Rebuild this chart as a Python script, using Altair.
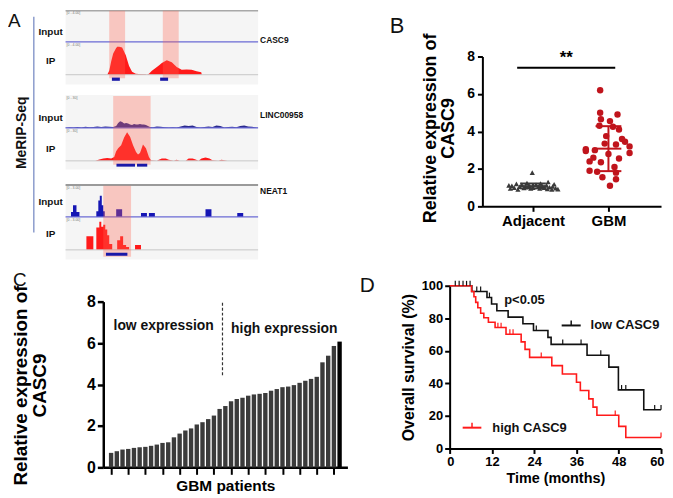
import altair as alt
import pandas as pd

FONT = "Liberation Sans"

# ================= Panel A : MeRIP-Seq browser tracks =================
gene_names = ["CASC9", "LINC00958", "NEAT1"]
input_base = [33, 122, 214]     # image rows of the Input baselines
ip_base = [67, 156, 248]        # image rows of the IP baselines
group_top = [1, 88, 181]
group_bottom = [77, 165, 258]
scale_text = ["[0 - 4.00]", "[0 - 30]", "[0 - 3.00]"]

g1_ip_pos = [108, 110, 112, 114, 116.7, 118, 120, 123, 126.7, 130, 133, 136.7, 140, 146.7, 148,
             150, 153, 156.7, 160, 163, 168, 173, 178, 183, 188, 193, 198, 202.7, 203.3]
g1_ip_val = [0, 4, 14, 22, 27, 29, 29, 28, 20, 9, 3, 1, 0.8, 0.5, 0,
             1, 4, 7, 9.5, 12, 15, 13, 8, 5, 5.5, 5, 3.5, 2.5, 0]

g2_in_pos = [66, 70, 74, 78, 82, 86, 90, 94, 98, 102, 106, 110, 114, 117, 119, 121, 123, 125, 127, 129,
             131, 133, 135, 137, 139, 141, 143, 145, 147, 149, 151, 154, 158, 162, 166, 170, 174, 178, 182, 186,
             190, 194, 198, 202, 206, 210, 214, 218, 222, 226, 230, 234, 238, 242, 246, 250, 254, 258, 260]
g2_in_val = [0.3, 0.8, 0.5, 1, 0.5, 1.2, 0.8, 1, 1.5, 1, 1.5, 1.2, 1, 2, 5, 7, 6, 4.5, 5, 4.5,
             3.5, 3, 4, 3.5, 3.5, 4, 3.5, 3.5, 3, 2, 1, 0.8, 1.5, 1.2, 0.8, 0.5, 0.8, 0.5, 1.5, 2.5,
             2, 2.5, 1, 0.5, 1, 1.5, 1, 2.5, 2, 0.5, 1, 1.2, 0.8, 2, 2.5, 1.5, 1.2, 0.5, 0.3]

g2_ip_pos = [96, 100, 104, 108, 112, 115, 117, 119, 122, 125, 128, 131, 134, 137, 139, 141, 144, 147, 150, 152,
             158, 160, 163, 167, 170, 175, 178, 181, 187, 190, 194, 197, 200, 203, 207, 211, 214, 220, 223, 226, 229]
g2_ip_val = [0, 1.5, 2.5, 3, 2.5, 4, 10, 13, 16, 24, 29.5, 25, 16, 9, 6.5, 8, 17, 13, 4, 0.5,
             0, 1, 2.5, 2.5, 1, 0, 1, 0, 0, 2.5, 2.5, 1.5, 0, 2.5, 3.5, 2.5, 0.5, 0, 1, 0.5, 0]

g3_in_pos = [66, 71.5, 73.5, 77, 80, 97, 99, 100.5, 102.5, 104, 105.5, 117, 123, 142, 148, 150, 156, 207, 213, 239, 245, 260]
g3_in_val = [0, 5, 12, 5, 0, 6, 17, 22, 12, 6, 0, 8, 0, 4, 0, 4, 0, 8, 0, 4, 0, 0]

g3_ip_pos = [66, 87, 94, 97, 100, 102, 104, 106, 108, 110, 113, 118, 121, 124, 127, 130, 136, 142, 260]
g3_ip_val = [0, 14, 0, 23, 29, 24, 26, 21, 15, 6, 0, 10, 14, 5, 3, 0, 5, 0, 0]

peak_x1 = [110, 164, 114, 104]
peak_x2 = [126, 180, 151.7, 132]
peak_y1 = [1, 1, 89, 181.7]
peak_y2 = [70.7, 70.7, 160, 255]

feat_x1 = [112.7, 161.3, 117.3, 138, 106.7]
feat_x2 = [120.7, 169.3, 136, 148.3, 128.3]
feat_y1 = [70, 70, 159, 159, 251]
feat_y2 = [73.3, 73.3, 162, 162, 254]

# ================= Panel B =================
adj_vals = [1.80, 1.30, 1.25, 1.22, 1.20, 1.18, 1.15, 1.15, 1.12, 1.10, 1.10, 1.08, 1.06, 1.05, 1.05,
            1.03, 1.02, 1.00, 1.00, 1.00, 0.98, 0.97, 0.96, 0.95, 0.95, 0.93, 0.92, 0.90, 0.90, 1.12]
adj_off = [-0.01, 0.20, -0.08, 0.10, -0.22, 0.28, -0.15, 0.04, 0.18, -0.28, -0.05, 0.12, 0.26, -0.18, 0.07,
           -0.10, 0.22, -0.25, 0.00, 0.15, -0.12, 0.30, 0.09, -0.30, -0.03, 0.19, 0.33, -0.20, 0.25, -0.32]
gbm_vals = [6.2, 5.0, 4.9, 4.65, 4.55, 4.3, 4.25, 4.1, 3.75, 3.45, 3.35, 3.3, 3.2, 3.05, 3.0,
            2.95, 2.85, 2.8, 2.55, 2.4, 2.35, 2.1, 1.9, 1.85, 1.8, 1.55, 1.45, 2.6, 1.1, 3.6]
gbm_off = [-0.11, -0.11, 0.12, -0.10, 0.02, -0.12, 0.06, 0.14, -0.03, 0.22, -0.05, 0.10, 0.28, -0.30, -0.18,
           -0.30, 0.28, 0.00, 0.14, -0.25, -0.10, 0.08, -0.25, -0.15, 0.10, -0.08, 0.10, -0.20, 0.02, 0.18]
adj_stats = [0.96, 1.08, 1.22]   # mean - SD, mean, mean + SD
gbm_stats = [1.88, 3.08, 4.28]
sig_line = [0.79, 2.09, 7.4]

# ================= Panel C =================
c_vals = [0.70, 0.78, 0.86, 0.89, 0.94, 0.97, 0.99, 1.04, 1.10, 1.18, 1.21, 1.45, 1.63, 1.78, 1.88,
          2.07, 2.18, 2.33, 2.50, 2.82, 2.96, 3.19, 3.30, 3.36, 3.46, 3.52, 3.55, 3.59, 3.70, 3.78,
          3.87, 3.90, 3.97, 4.08, 4.18, 4.27, 4.37, 5.07, 5.39, 5.86, 6.07]
c_split = [20.5, 4.45, 8.0]

# ================= Panel D =================
low_t = [0, 6.3, 10.6, 11.9, 13.4, 16.6, 20.8, 23.8, 27.9, 28.8, 39.0, 45.2, 47.9, 55.1, 60]
low_s = [100, 96.5, 92.8, 88.8, 84.6, 80.7, 76.6, 72.5, 68.3, 64.0, 57.3, 50.0, 36.0, 23.8, 23.8]
low_cens_t = [1.6, 2.7, 3.8, 4.8, 5.8, 7.7, 8.8, 11.3, 24.6, 32.1, 37.3, 42.9, 48.8, 50.0, 58.2, 60]
low_cens_s = [100, 100, 100, 100, 100, 96.5, 96.5, 92.8, 72.5, 64, 64, 57.3, 36, 36, 23.8, 23.8]
high_t = [0, 6.2, 6.9, 7.4, 8.0, 8.8, 9.7, 11.0, 12.9, 16.0, 20.3, 21.4, 22.7, 29.0, 32.0, 36.0,
          37.1, 39.5, 40.7, 41.8, 48.0, 50.0, 60]
high_s = [100, 96.5, 93.2, 89.8, 86.5, 83.1, 80.3, 77.6, 74.3, 70.2, 65.5, 60.9, 56.0, 50.9, 45.8, 40.7,
          35.6, 30.5, 25.4, 20.4, 13.6, 6.8, 6.8]
high_cens_t = [13.7, 14.6, 17.1, 18.0, 26.0, 47.0, 60]
high_cens_s = [74.3, 74.3, 70.2, 70.2, 56.0, 20.4, 6.8]

RED = "#ff1a1a"
DARKRED = "#c0141c"

# ---------------------------------------------------------------- A
A_X = alt.Scale(domain=[0, 330], range=[-104, 226], nice=False, zero=False)
A_Y = alt.Scale(domain=[1, 258], range=[-46, 204.6], nice=False, zero=False)


def ax(f):
    return alt.X(f, scale=A_X, axis=None)


def ay(f):
    return alt.Y(f, scale=A_Y, axis=None)


bg_df = pd.DataFrame({"x": [66] * 3, "x2": [260] * 3, "y": group_top, "y2": group_bottom})
bg = alt.Chart(bg_df).mark_rect(color="#f5f5f5").encode(ax("x:Q"), alt.X2("x2:Q"), ay("y:Q"), alt.Y2("y2:Q"))


def area_rows(name, base, pos, val):
    return [{"track": name, "x": p, "top": base - v, "base": base} for p, v in zip(pos, val)]


red_lin = pd.DataFrame(area_rows("g1ip", ip_base[0], g1_ip_pos, g1_ip_val) +
                       area_rows("g2ip", ip_base[1], g2_ip_pos, g2_ip_val))
red_step = pd.DataFrame(area_rows("g3ip", ip_base[2], g3_ip_pos, g3_ip_val))
navy_lin = pd.DataFrame(area_rows("g2in", input_base[1], g2_in_pos, g2_in_val))
blue_step = pd.DataFrame(area_rows("g3in", input_base[2], g3_in_pos, g3_in_val))


def area_layer(df, color, interp):
    return alt.Chart(df).mark_area(color=color, interpolate=interp, opacity=1).encode(
        ax("x:Q"), ay("top:Q"), alt.Y2("base:Q"), detail="track:N")


a_red1 = area_layer(red_lin, RED, "linear")
a_red2 = area_layer(red_step, RED, "step-after")
a_navy = area_layer(navy_lin, "#2a2a8e", "linear")
a_blue = area_layer(blue_step, "#1616b4", "step-after")

line_df = pd.DataFrame({
    "x": [66] * 8, "x2": [260] * 8,
    "y": input_base + ip_base + [group_top[0], group_top[2]],
    "c": ["#6a6ad4"] * 3 + ["#c8c8c8"] * 3 + ["#a8a8a8", "#9a9a9a"],
    "w": [1.3] * 3 + [1] * 3 + [1.5, 2],
})
a_lines = alt.Chart(line_df).mark_rule().encode(
    ax("x:Q"), alt.X2("x2:Q"), ay("y:Q"),
    color=alt.Color("c:N", scale=None), strokeWidth=alt.StrokeWidth("w:Q", scale=None))

pink_df = pd.DataFrame({"x": peak_x1, "x2": peak_x2, "y": peak_y1, "y2": peak_y2})
a_pink = alt.Chart(pink_df).mark_rect(color="#ff6450", opacity=0.32).encode(
    ax("x:Q"), alt.X2("x2:Q"), ay("y:Q"), alt.Y2("y2:Q"))

feat_df = pd.DataFrame({"x": feat_x1, "x2": feat_x2, "y": feat_y1, "y2": feat_y2})
a_feat = alt.Chart(feat_df).mark_rect(color="#1818a8").encode(
    ax("x:Q"), alt.X2("x2:Q"), ay("y:Q"), alt.Y2("y2:Q"))

vline_df = pd.DataFrame({"x": [34], "y": [7], "y2": [230]})
a_vline = alt.Chart(vline_df).mark_rule(color="#8c9ccc", strokeWidth=1.5).encode(
    ax("x:Q"), ay("y:Q"), alt.Y2("y2:Q"))

lab_df = pd.DataFrame({
    "x": [51, 51, 51, 51, 51, 51],
    "y": [22.7, 53.3, 111.7, 144, 199, 231.7],
    "t": ["Input", "IP", "Input", "IP", "Input", "IP"],
})
a_labels = alt.Chart(lab_df).mark_text(fontSize=10, fontWeight="bold", color="#111").encode(
    ax("x:Q"), ay("y:Q"), text="t:N")

gene_df = pd.DataFrame({"x": [262, 262, 262], "y": [31, 109, 187], "t": gene_names})
a_genes = alt.Chart(gene_df).mark_text(fontSize=8.5, fontWeight="bold", align="left", color="#111").encode(
    ax("x:Q"), ay("y:Q"), text="t:N")

sc_df = pd.DataFrame({
    "x": [67] * 6,
    "y": [3.5, 36.5, 91, 125.5, 184, 217.5],
    "t": [scale_text[0], scale_text[0], scale_text[1], scale_text[1], scale_text[2], scale_text[2]],
})
a_scale = alt.Chart(sc_df).mark_text(fontSize=3.5, align="left", color="#777").encode(
    ax("x:Q"), ay("y:Q"), text="t:N")

merip_df = pd.DataFrame({"x": [22], "y": [127], "t": ["MeRIP-Seq"]})
a_merip = alt.Chart(merip_df).mark_text(fontSize=14, fontWeight="bold", angle=270, color="#111").encode(
    ax("x:Q"), ay("y:Q"), text="t:N")

aletter_df = pd.DataFrame({"x": [8], "y": [12], "t": ["A"]})
a_letter = alt.Chart(aletter_df).mark_text(fontSize=19, align="left", baseline="middle", color="#111").encode(
    ax("x:Q"), ay("y:Q"), text="t:N")

panel_a = alt.layer(bg, a_red1, a_red2, a_navy, a_blue, a_lines, a_pink, a_feat, a_vline,
                    a_labels, a_genes, a_scale, a_merip, a_letter).properties(width=300, height=151)

# ---------------------------------------------------------------- common axis style
ax_style = dict(grid=False, domainColor="black", tickColor="black", labelColor="black",
                titleColor="black", labelFontWeight="bold", titleFontWeight="bold")

# ---------------------------------------------------------------- B
B_X = alt.Scale(domain=[0.329, 2.697], range=[33, 213], nice=False, zero=False)
B_Y = alt.Scale(domain=[0, 8], nice=False, zero=False)
bx_axis = alt.Axis(values=[1, 2], labelExpr="datum.value == 1 ? 'Adjacent' : 'GBM'", title=None,
                   domainWidth=2, tickWidth=2, tickSize=5, labelFontSize=15, labelPadding=2, **ax_style)
by_axis = alt.Axis(values=[0, 2, 4, 6, 8], offset=-33, title=["Relative expression of", "CASC9"],
                   domainWidth=2, tickWidth=2, tickSize=5, labelFontSize=14, labelPadding=3,
                   titleFontSize=18, titleX=-52, titleY=72, titleAngle=270, titleAlign="center",
                   titleBaseline="middle", titleLineHeight=18, **ax_style)
BX = alt.X("xp:Q", scale=B_X, axis=bx_axis)
BY = alt.Y("val:Q", scale=B_Y, axis=by_axis)

adj_df = pd.DataFrame({"xp": [1 + o for o in adj_off], "val": adj_vals})
gbm_df = pd.DataFrame({"xp": [2 + o for o in gbm_off], "val": gbm_vals})
b_adj = alt.Chart(adj_df).mark_point(shape="triangle-up", filled=True, size=28, color="#3a3a3a", opacity=1).encode(BX, BY)
b_gbm = alt.Chart(gbm_df).mark_circle(size=42, color=DARKRED, opacity=1).encode(BX, BY)

ev_df = pd.DataFrame({"xp": [1, 2], "val": [adj_stats[0], gbm_stats[0]], "val2": [adj_stats[2], gbm_stats[2]],
                      "c": ["#3a3a3a", DARKRED]})
b_ev = alt.Chart(ev_df).mark_rule(strokeWidth=2).encode(BX, BY, alt.Y2("val2:Q"), color=alt.Color("c:N", scale=None))
caps = []
for cx, st, col in [(1, adj_stats, "#3a3a3a"), (2, gbm_stats, DARKRED)]:
    for v in st:
        caps.append({"xp": cx - 0.171, "xp2": cx + 0.171, "val": v, "c": col})
b_caps = alt.Chart(pd.DataFrame(caps)).mark_rule(strokeWidth=2).encode(
    BX, alt.X2("xp2:Q"), BY, color=alt.Color("c:N", scale=None))
sig_df = pd.DataFrame({"xp": [sig_line[0]], "xp2": [sig_line[1]], "val": [sig_line[2]]})
b_sig = alt.Chart(sig_df).mark_rule(strokeWidth=2, color="black").encode(BX, alt.X2("xp2:Q"), BY)
star_df = pd.DataFrame({"xp": [(sig_line[0] + sig_line[1]) / 2], "val": [7.9], "t": ["**"]})
b_star = alt.Chart(star_df).mark_text(fontSize=17, fontWeight="bold", color="black").encode(BX, BY, text="t:N")
bl_df = pd.DataFrame({"t": ["B"]})
b_letter = alt.Chart(bl_df).mark_text(fontSize=22, color="#111", baseline="middle").encode(
    x=alt.value(-53), y=alt.value(-31), text="t:N")

panel_b = alt.layer(b_sig, b_star, b_adj, b_gbm, b_ev, b_caps, b_letter).properties(width=213, height=151)

# ---------------------------------------------------------------- C
C_X = alt.Scale(domain=[0.5, 41.5], range=[0, 246], nice=False, zero=False)
C_Y = alt.Scale(domain=[0, 8], range=[263, 96], nice=False, zero=False)
cx_axis = alt.Axis(values=list(range(1, 42, 3)), labels=False, title="GBM patients", titleFontSize=15.5,
                   titlePadding=3, domainWidth=2.5, tickWidth=2, tickSize=7, **ax_style)
cy_axis = alt.Axis(values=[0, 2, 4, 6, 8], title=["Relative expression of", "CASC9"], domainWidth=2.5,
                   tickWidth=2.5, tickSize=6, labelFontSize=16, labelPadding=2, titleFontSize=19,
                   titleX=-83, titleY=180, titleAngle=270, titleAlign="center", titleBaseline="middle",
                   titleLineHeight=19, **ax_style)
CX = alt.X("idx:Q", scale=C_X, axis=cx_axis)
CY = alt.Y("val:Q", scale=C_Y, axis=cy_axis)

c_df = pd.DataFrame({"idx": list(range(1, len(c_vals) + 1)), "val": c_vals})
c_bars = alt.Chart(c_df).mark_bar(size=4.4).encode(
    CX, CY, color=alt.condition(alt.datum.idx == len(c_vals), alt.value("#000000"), alt.value("#3b3b3b")))
split_df = pd.DataFrame({"idx": [c_split[0]], "val": [c_split[1]], "val2": [c_split[2]]})
c_split_rule = alt.Chart(split_df).mark_rule(color="#333", strokeWidth=1.2, strokeDash=[3, 2]).encode(
    CX, CY, alt.Y2("val2:Q"))
ctext_df = pd.DataFrame({"idx": [10.2], "val": [6.84], "t": ["low expression"]})
c_low = alt.Chart(ctext_df).mark_text(fontSize=14, fontWeight="bold", color="#111").encode(CX, CY, text="t:N")
ctext2_df = pd.DataFrame({"idx": [22.0], "val": [6.7], "t": ["high expression"]})
c_high = alt.Chart(ctext2_df).mark_text(fontSize=14, fontWeight="bold", align="left", color="#111").encode(
    CX, CY, text="t:N")
cl_df = pd.DataFrame({"t": ["C"]})
c_letter = alt.Chart(cl_df).mark_text(fontSize=19, color="#111", baseline="middle").encode(
    x=alt.value(-84), y=alt.value(74), text="t:N")

panel_c = alt.layer(c_bars, c_split_rule, c_low, c_high, c_letter).properties(width=349, height=263)

# ---------------------------------------------------------------- D
D_X = alt.Scale(domain=[0, 60], nice=False, zero=False)
D_Y = alt.Scale(domain=[0, 100], range=[244, 80], nice=False, zero=False)
dx_axis = alt.Axis(values=[0, 12, 24, 36, 48, 60], title="Time (months)", titleFontSize=14.5, titlePadding=3,
                   domainWidth=2, tickWidth=2, tickSize=5, labelFontSize=13, labelPadding=2,
                   labelFlush=True, labelFlushOffset=3, **ax_style)
dy_axis = alt.Axis(values=[0, 20, 40, 60, 80, 100], title="Overall survival (%)", titleFontSize=16,
                   titleX=-41, titleY=162, titleAngle=270, titleAlign="center", titleBaseline="middle",
                   domainWidth=2, tickWidth=2, tickSize=5, labelFontSize=13, labelPadding=2, **ax_style)
DX = alt.X("t:Q", scale=D_X, axis=dx_axis)
DY = alt.Y("s:Q", scale=D_Y, axis=dy_axis)

km_df = pd.DataFrame({"t": low_t + high_t, "s": low_s + high_s,
                      "g": ["low"] * len(low_t) + ["high"] * len(high_t)})
d_lines = alt.Chart(km_df).mark_line(interpolate="step-after", strokeWidth=1.6).encode(
    DX, DY, color=alt.Color("g:N", scale=alt.Scale(domain=["low", "high"], range=["#111111", RED]), legend=None))
cens_df = pd.DataFrame({"t": low_cens_t + high_cens_t, "s": low_cens_s + high_cens_s,
                        "g": ["low"] * len(low_cens_t) + ["high"] * len(high_cens_t)})
cens_df["s2"] = cens_df["s"] + 3
d_cens = alt.Chart(cens_df).mark_rule(strokeWidth=1.2).encode(
    DX, DY, alt.Y2("s2:Q"),
    color=alt.Color("g:N", scale=alt.Scale(domain=["low", "high"], range=["#111111", RED]), legend=None))

leg_df = pd.DataFrame({"t": [31.8, 3.7], "t2": [37.2, 9.0], "s": [75.6, 12.8], "g": ["low", "high"]})
d_leg = alt.Chart(leg_df).mark_rule(strokeWidth=2).encode(
    DX, alt.X2("t2:Q"), DY,
    color=alt.Color("g:N", scale=alt.Scale(domain=["low", "high"], range=["#111111", RED]), legend=None))
legt_df = pd.DataFrame({"t": [34.5, 6.35], "s": [75.6, 12.8], "s2": [78.6, 15.8], "g": ["low", "high"]})
d_legtick = alt.Chart(legt_df).mark_rule(strokeWidth=1.5).encode(
    DX, DY, alt.Y2("s2:Q"),
    color=alt.Color("g:N", scale=alt.Scale(domain=["low", "high"], range=["#111111", RED]), legend=None))
legtxt_df = pd.DataFrame({"t": [40.0, 12.1, 15.5], "s": [75.6, 12.8, 91.5], "txt": ["low CASC9", "high CASC9", "p<0.05"]})
d_legtxt = alt.Chart(legtxt_df).mark_text(fontSize=13, fontWeight="bold", align="left", baseline="middle",
                                          color="#111").encode(DX, DY, text="txt:N")
dl_df = pd.DataFrame({"t": ["D"]})
d_letter = alt.Chart(dl_df).mark_text(fontSize=21, color="#111", baseline="middle").encode(
    x=alt.value(-83), y=alt.value(80), text="t:N")

panel_d = alt.layer(d_lines, d_cens, d_leg, d_legtick, d_legtxt, d_letter).properties(width=213, height=244)

chart = alt.concat(panel_a, panel_b, panel_c, panel_d, columns=2, spacing=0, bounds="flush", align="each").properties(
    padding=0
).configure(font=FONT).configure_view(stroke=None)

chart.save("out.html", embed_options={"renderer": "svg", "actions": False})
